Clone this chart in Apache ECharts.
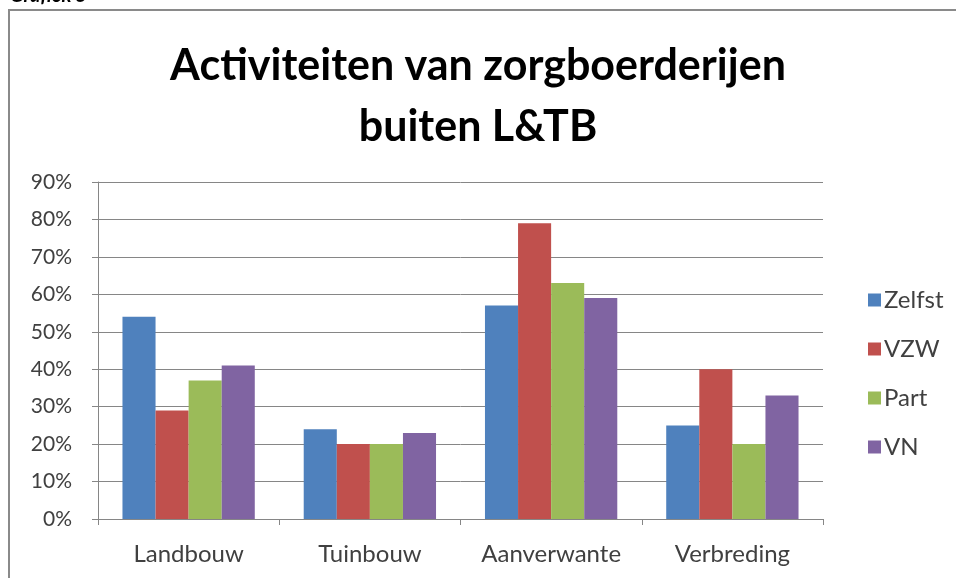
<!DOCTYPE html>
<html>
<head>
<meta charset="utf-8">
<script src="https://cdn.jsdelivr.net/npm/echarts@6/dist/echarts.min.js"></script>
<style>
  html, body { margin: 0; padding: 0; background: #fff; }
  #chart { width: 956px; height: 578px; }
</style>
</head>
<body>
<div id="chart"></div>
<script>
// categorieën op de x-as
var categories = ['Landbouw', 'Tuinbouw', 'Aanverwante', 'Verbreding']
// reeksen (in %)
var seriesNames = ['Zelfst', 'VZW', 'Part', 'VN']
var zelfst = [54, 24, 57, 25]
var vzw = [29, 20, 79, 40]
var part = [37, 20, 63, 20]
var vn = [41, 23, 59, 33]
var colors = ['#4F81BD', '#C0504D', '#9BBB59', '#8064A2']

var font = 'Lato, "Open Sans", sans-serif'
var textColor = '#404040'
var lineColor = '#868686'

var seriesData = [zelfst, vzw, part, vn]
var series = seriesData.map(function (d, i) {
  return {
    name: seriesNames[i],
    type: 'bar',
    data: d,
    barGap: '0%',
    barCategoryGap: '27%',
    itemStyle: { color: colors[i] }
  }
})

var chart = echarts.init(document.getElementById('chart'))
chart.setOption({
  animation: false,
  backgroundColor: '#fff',
  color: colors,
  title: {
    text: 'Activiteiten van zorgboerderijen\nbuiten L&TB',
    left: 'center',
    top: 31,
    textStyle: {
      fontFamily: font,
      fontWeight: 'bold',
      fontSize: 43,
      lineHeight: 61,
      color: '#000'
    }
  },
  graphic: [
    {
      type: 'rect',
      shape: { x: 9, y: 10, width: 1200, height: 1000 },
      style: { fill: 'none', stroke: '#8a8a8a', lineWidth: 2 }
    },
    {
      type: 'text',
      left: 10,
      top: -14,
      style: {
        text: 'Grafiek 5',
        font: 'italic bold 20px ' + font,
        fill: '#000'
      }
    }
  ],
  legend: {
    orient: 'vertical',
    left: 863,
    top: 283,
    itemWidth: 13,
    itemHeight: 13,
    itemGap: 25,
    icon: 'rect',
    data: seriesNames,
    textStyle: { fontFamily: font, fontSize: 24, color: textColor, padding: [0, 0, 0, -2] }
  },
  grid: { left: 98, right: 133, top: 182, bottom: 59 },
  xAxis: {
    type: 'category',
    data: categories,
    axisLine: { lineStyle: { color: lineColor, width: 1 } },
    axisTick: { show: true, length: 6, lineStyle: { color: lineColor } },
    axisLabel: { interval: 0, margin: 23, fontFamily: font, fontSize: 24, color: textColor }
  },
  yAxis: {
    type: 'value',
    min: 0,
    max: 90,
    interval: 10,
    axisLine: { show: true, lineStyle: { color: lineColor, width: 1 } },
    axisTick: { show: true, length: 6, lineStyle: { color: lineColor } },
    axisLabel: { margin: 26, formatter: '{value}%', fontFamily: font, fontSize: 21, color: textColor },
    splitLine: { lineStyle: { color: lineColor, width: 1 } }
  },
  series: series
})
</script>
</body>
</html>
